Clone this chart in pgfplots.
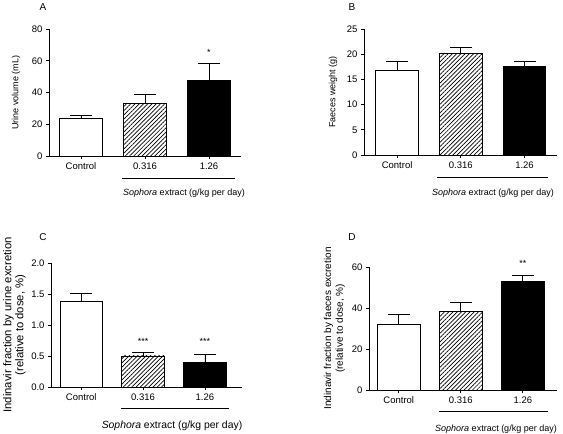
\documentclass[border=0pt]{standalone}
\usepackage{fontspec}
\setmainfont{Liberation Sans}
\usepackage{pgfplots}
\pgfplotsset{compat=1.18}
\usetikzlibrary{patterns.meta}

\pgfplotsset{
  panel/.style={
    scale only axis,
    anchor=south west,
    axis lines=left,
    axis line style={-, line width=0.8pt, black},
    tick style={black, line width=0.8pt},
    tick align=outside,
    major tick length=3pt,
    xtick={0,1,2},
    xticklabels={Control,0.316,1.26},
    ybar,
    bar width=42.5pt,
    ymin=0,
    ticklabel style={font=\fontsize{9.5}{11}\selectfont},
    /pgf/number format/assume math mode=true,
    clip=false,
    error bars/y dir=plus,
    error bars/y explicit,
    error bars/error bar style={line width=0.8pt, black},
    error bars/error mark options={rotate=90, mark size=11pt, line width=0.8pt, black},
  },
  ctl/.style={fill=white, draw=black, line width=0.8pt, bar shift=0pt},
  low/.style={pattern={Lines[angle=45,distance=3pt,line width=0.7pt]}, draw=black, line width=0.8pt, bar shift=0pt},
  high/.style={fill=black, draw=black, line width=0.8pt, bar shift=0pt},
}

\newcommand{\sophora}{\textit{Sophora} extract (g/kg per day)}

\begin{document}
\begin{tikzpicture}
\useasboundingbox (0pt,0pt) rectangle (563pt,434pt);

% ---------- Panel A ----------
\begin{axis}[panel, at={(49pt,278pt)}, width=192pt, height=127pt,
  xmin=-0.5, xmax=2.5, ymax=80, ytick={0,20,40,60,80},
  ylabel={Urine volume (mL)},
  ylabel style={at={(axis description cs:-0.172,0.5)}, anchor=center, font=\fontsize{9}{11}\selectfont}]
\addplot[ctl]  coordinates {(0,23.9) +- (0,1.4)};
\addplot[low]  coordinates {(1,33.3) +- (0,5.4)};
\addplot[high] coordinates {(2,47.8) +- (0,10.3)};
\node[font=\fontsize{9}{10}\selectfont] at (axis cs:2,65.5) {*};
\end{axis}

% ---------- Panel B ----------
\begin{axis}[panel, at={(364pt,279pt)}, width=193pt, height=126pt,
  xmin=-0.52, xmax=2.51, ymax=25, ytick={0,5,10,15,20,25},
  ylabel={Faeces weight (g)},
  ylabel style={at={(axis description cs:-0.161,0.5)}, anchor=center, font=\fontsize{9}{11}\selectfont}]
\addplot[ctl]  coordinates {(0,16.7) +- (0,1.9)};
\addplot[low]  coordinates {(1,20.2) +- (0,1.2)};
\addplot[high] coordinates {(2,17.5) +- (0,1.0)};
\end{axis}

% ---------- Panel C ----------
\begin{axis}[panel, at={(51pt,47pt)}, width=191pt, height=124pt,
  xmin=-0.49, xmax=2.6, ymax=2, ytick={0,0.5,1,1.5,2},
  yticklabel style={/pgf/number format/.cd, fixed, fixed zerofill, precision=1},
  ylabel={Indinavir fraction by urine excretion\\(relative to dose, \%)},
  ylabel style={at={(axis description cs:-0.191,0.5)}, anchor=center, align=center, font=\fontsize{11.3}{12}\selectfont}]
\addplot[ctl]  coordinates {(0,1.376) +- (0,0.14)};
\addplot[low]  coordinates {(1,0.50) +- (0,0.065)};
\addplot[high] coordinates {(2,0.40) +- (0,0.12)};
\node[font=\fontsize{9}{10}\selectfont] at (axis cs:1,0.73) {***};
\node[font=\fontsize{9}{10}\selectfont] at (axis cs:2,0.73) {***};
\end{axis}

% ---------- Panel D ----------
\begin{axis}[panel, at={(369pt,44pt)}, width=188pt, height=123pt,
  xmin=-0.48, xmax=2.55, ymax=60, ytick={0,20,40,60},
  ylabel={Indinavir fraction by faeces excretion\\(relative to dose, \%)},
  ylabel style={at={(axis description cs:-0.1835,0.5)}, anchor=center, align=center, font=\fontsize{10}{11.7}\selectfont}]
\addplot[ctl]  coordinates {(0,31.9) +- (0,4.8)};
\addplot[low]  coordinates {(1,38.2) +- (0,4.7)};
\addplot[high] coordinates {(2,53.2) +- (0,2.9)};
\node[font=\fontsize{9}{10}\selectfont] at (axis cs:2,62) {**};
\end{axis}

% ---------- panel letters ----------
\node[font=\fontsize{10}{12}\selectfont] at (43pt,427pt) {A};
\node[font=\fontsize{10}{12}\selectfont] at (352pt,427pt) {B};
\node[font=\fontsize{10}{12}\selectfont] at (43pt,197pt) {C};
\node[font=\fontsize{10}{12}\selectfont] at (352pt,197pt) {D};

% ---------- group lines and captions ----------
\draw[line width=0.9pt] (122pt,256pt) -- (235pt,256pt);
\node[font=\fontsize{9}{11}\selectfont] at (184pt,241pt) {\sophora};
\draw[line width=0.9pt] (437pt,257pt) -- (548pt,257pt);
\node[font=\fontsize{9}{11}\selectfont] at (493pt,241pt) {\sophora};
\draw[line width=0.9pt] (121pt,26pt) -- (229pt,26pt);
\node[font=\fontsize{10.4}{12}\selectfont] at (172pt,8pt) {\sophora};
\draw[line width=0.9pt] (439pt,23pt) -- (548pt,23pt);
\node[font=\fontsize{9}{11}\selectfont] at (496pt,5pt) {\sophora};
\end{tikzpicture}
\end{document}
